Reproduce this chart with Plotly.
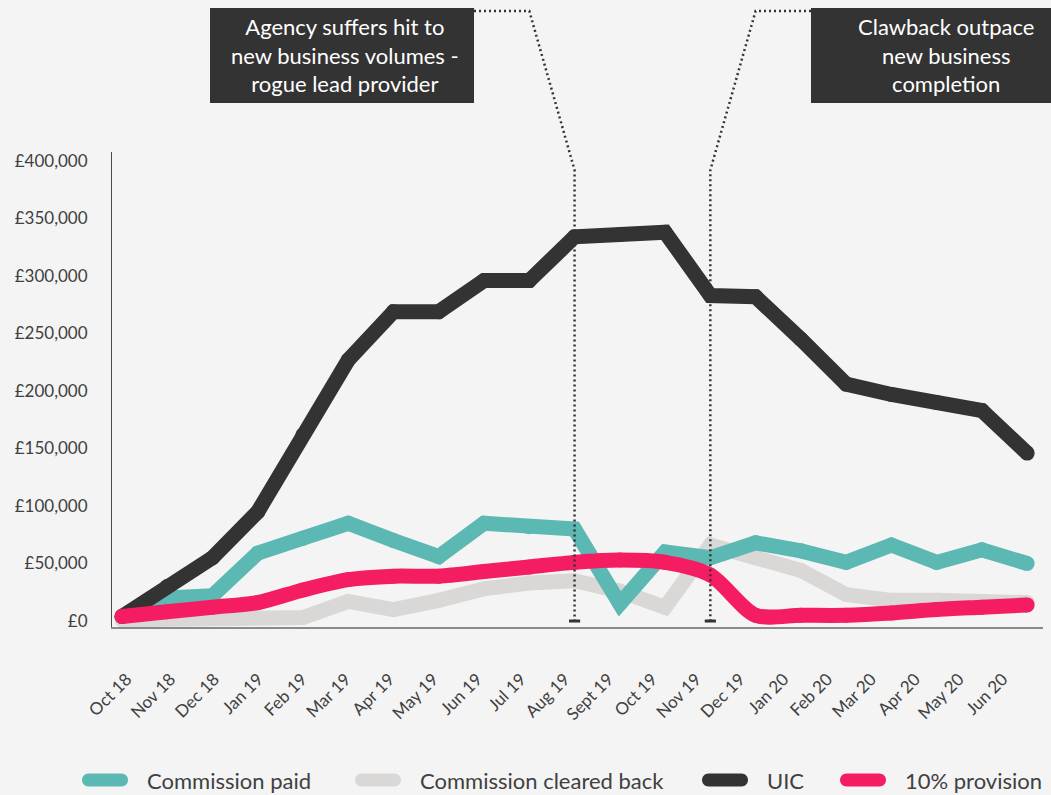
import plotly.graph_objects as go

# ---- data -------------------------------------------------------------
months = ["Oct 18", "Nov 18", "Dec 18", "Jan 19", "Feb 19", "Mar 19", "Apr 19",
          "May 19", "Jun 19", "Jul 19", "Aug 19", "Sept 19", "Oct 19", "Nov 19",
          "Dec 19", "Jan 20", "Feb 20", "Mar 20", "Apr 20", "May 20", "Jun 20"]

commission_paid = [4000, 20000, 22000, 59000, 72000, 85000, 70000, 56000, 85000,
                   82000, 80000, 15000, 60000, 55000, 68000, 61000, 51000, 66000,
                   51000, 62000, 50000]

commission_cleared_back = [1000, 2000, 3000, 3000, 3000, 17000, 10000, 18000, 28000,
                           33000, 35000, 26000, 12000, 66000, 55000, 44000, 23000,
                           18000, 18000, 17000, 16000]

uic = [4000, 30000, 55000, 95000, 162000, 227000, 269000, 269000, 296000, 296000,
       334000, 336000, 338000, 283000, 282000, 245000, 206000, 197000, 190000,
       183000, 146000]

provision = [4000, 8000, 12000, 16000, 27000, 36000, 39000, 39000, 43000, 47000,
             51000, 53000, 51000, 40000, 5000, 5000, 5000, 7000, 10000, 12000, 14000]

y_ticks = [0, 50000, 100000, 150000, 200000, 250000, 300000, 350000, 400000]
y_tick_text = ["£0", "£50,000", "£100,000", "£150,000", "£200,000", "£250,000",
               "£300,000", "£350,000", "£400,000"]

# ---- page geometry ------------------------------------------------------
W, H = 1051, 795
ML, MR, MT, MB = 112, 8, 152, 168
X_RANGE = [-0.22, 20.35]
LABEL_RANGE = [-0.336, 20.92]   # month labels sit on a slightly tighter spacing
Y_RANGE = [-5200, 407800]

BG = "#f4f4f4"
TEAL = "#5cb8b2"
GREY = "#d9d8d6"
DARK = "#333333"
PINK = "#f51d61"
TEXT = "#404040"
FONT = "Lato, Open Sans, sans-serif"
LINE_W = 15


def paper_x(px):
    return (px - ML) / (W - ML - MR)


def paper_y(py):
    return (H - MB - py) / (H - MT - MB)


def idx_x(i):
    # category index -> paper fraction along the x axis
    return (i - X_RANGE[0]) / (X_RANGE[1] - X_RANGE[0])


def val_y(v):
    return (v - Y_RANGE[0]) / (Y_RANGE[1] - Y_RANGE[0])


fig = go.Figure()

series = [
    ("Commission cleared back", commission_cleared_back, GREY, "linear"),
    ("Commission paid", commission_paid, TEAL, "linear"),
    ("UIC", uic, DARK, "linear"),
    ("10% provision", provision, PINK, "spline"),
]

for name, vals, color, shape in series:
    # round dots at each vertex give the thick line rounded joins and ends
    fig.add_trace(go.Scatter(
        x=months, y=vals, name=name, mode="lines+markers",
        line=dict(color=color, width=LINE_W, shape=shape, smoothing=0.8),
        marker=dict(color=color, size=LINE_W, line=dict(width=0)),
        hoverinfo="skip", showlegend=False,
    ))

# empty trace that brings the overlaid month-label axis into being
fig.add_trace(go.Scatter(x=[], y=[], xaxis="x2", yaxis="y", mode="lines",
                         showlegend=False, hoverinfo="skip"))

# ---- callout boxes with dotted leader lines -----------------------------
dot = dict(color=DARK, width=2.5, dash="2px,3px")
top_y = paper_y(11)
knee_y = paper_y(170)
base_y = val_y(0)

# left callout -> Aug 19
fig.add_shape(type="rect", xref="paper", yref="paper",
              x0=paper_x(210), x1=paper_x(474), y0=paper_y(103), y1=paper_y(8),
              fillcolor=DARK, line=dict(width=0), layer="above")
fig.add_shape(type="path", xref="paper", yref="paper",
              path=(f"M {paper_x(474)},{top_y} L {idx_x(9)},{top_y} "
                    f"L {idx_x(10)},{knee_y} L {idx_x(10)},{base_y}"),
              line=dot, layer="above")
fig.add_shape(type="line", xref="paper", yref="paper",
              x0=idx_x(10) - 0.006, x1=idx_x(10) + 0.006, y0=base_y, y1=base_y,
              line=dict(color=DARK, width=3), layer="above")

# right callout -> Nov 19
fig.add_shape(type="rect", xref="paper", yref="paper",
              x0=paper_x(811), x1=paper_x(1090), y0=paper_y(103), y1=paper_y(8),
              fillcolor=DARK, line=dict(width=0), layer="above")
fig.add_shape(type="path", xref="paper", yref="paper",
              path=(f"M {paper_x(811)},{top_y} L {idx_x(14)},{top_y} "
                    f"L {idx_x(13)},{knee_y} L {idx_x(13)},{base_y}"),
              line=dot, layer="above")
fig.add_shape(type="line", xref="paper", yref="paper",
              x0=idx_x(13) - 0.006, x1=idx_x(13) + 0.006, y0=base_y, y1=base_y,
              line=dict(color=DARK, width=3), layer="above")

box_font = dict(family=FONT, size=22, color="#ffffff")
fig.add_annotation(xref="paper", yref="paper", x=paper_x(345), y=paper_y(55),
                   text="Agency suffers hit to<br>new business volumes -<br>rogue lead provider",
                   showarrow=False, align="center", font=box_font,
                   xanchor="center", yanchor="middle")
fig.add_annotation(xref="paper", yref="paper", x=paper_x(946), y=paper_y(55),
                   text="Clawback outpace<br>new business<br>completion",
                   showarrow=False, align="center", font=box_font,
                   xanchor="center", yanchor="middle")

# ---- legend row: rounded swatches + labels ------------------------------
legend_items = [("Commission paid", TEAL, 82), ("Commission cleared back", GREY, 355),
                ("UIC", DARK, 702), ("10% provision", PINK, 840)]
LEG_Y, SW_LEN, SW_H = 780, 46, 13


def pill_path(x0, yc, length, height):
    r = height / 2
    k = 0.5523 * r
    x1 = x0 + length
    yt, yb = yc - r, yc + r
    pts = [
        ("M", [(x0 + r, yt)]),
        ("L", [(x1 - r, yt)]),
        ("C", [(x1 - r + k, yt), (x1, yc - k), (x1, yc)]),
        ("C", [(x1, yc + k), (x1 - r + k, yb), (x1 - r, yb)]),
        ("L", [(x0 + r, yb)]),
        ("C", [(x0 + r - k, yb), (x0, yc + k), (x0, yc)]),
        ("C", [(x0, yc - k), (x0 + r - k, yt), (x0 + r, yt)]),
    ]
    parts = []
    for cmd, coords in pts:
        parts.append(cmd + " " + " ".join(f"{paper_x(px)},{paper_y(py)}" for px, py in coords))
    return " ".join(parts) + " Z"


for label, color, x_start in legend_items:
    fig.add_shape(type="path", xref="paper", yref="paper",
                  path=pill_path(x_start, LEG_Y, SW_LEN, SW_H),
                  fillcolor=color, line=dict(width=0))
    fig.add_annotation(xref="paper", yref="paper", x=paper_x(x_start + SW_LEN + 17),
                       y=paper_y(LEG_Y), text=label, showarrow=False,
                       xanchor="left", yanchor="middle",
                       font=dict(family=FONT, size=22, color=TEXT))

# ---- layout -------------------------------------------------------------
tick_font = dict(family=FONT, size=17, color=TEXT)

fig.update_layout(
    width=W, height=H,
    margin=dict(l=ML, r=MR, t=MT, b=MB, pad=0),
    paper_bgcolor=BG, plot_bgcolor=BG,
    showlegend=False,
    xaxis=dict(
        type="category", range=X_RANGE, showgrid=False, zeroline=False,
        showline=True, linecolor="#8a8a8a", linewidth=2, automargin=False,
        ticks="", showticklabels=False,
    ),
    # month labels on an overlaid axis
    xaxis2=dict(
        type="linear", overlaying="x", anchor="y", side="bottom", range=LABEL_RANGE,
        tickmode="array", tickvals=list(range(len(months))), ticktext=months,
        showgrid=False, zeroline=False, showline=False, automargin=False,
        ticks="", tickangle=-45, tickfont=tick_font, ticklabelstandoff=38,
    ),
    yaxis=dict(
        range=Y_RANGE, showgrid=False, zeroline=False, automargin=False,
        showline=True, linecolor="#4a4a4a", linewidth=1,
        tickvals=y_ticks, ticktext=y_tick_text,
        ticks="", tickfont=tick_font, ticklabelstandoff=20,
    ),
)

fig.write_html("out.html")
